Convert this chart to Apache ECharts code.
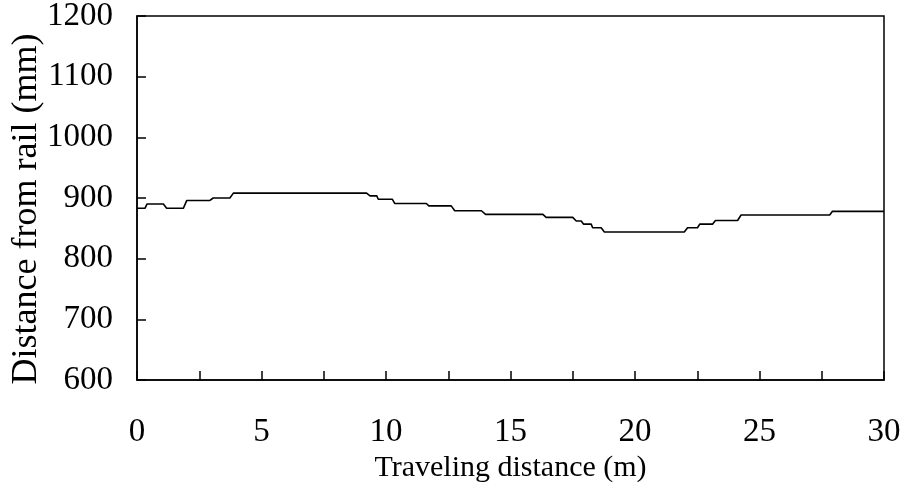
<!DOCTYPE html>
<html>
<head>
<meta charset="utf-8">
<script src="https://cdn.jsdelivr.net/npm/echarts@6/dist/echarts.min.js"></script>
<style>
  html, body { margin: 0; padding: 0; background: #fff; }
  #chart { width: 908px; height: 492px; }
</style>
</head>
<body>
<div id="chart"></div>
<script>
const distances = [0, 0.32, 0.4, 1.06, 1.19, 1.86, 2.0, 2.93, 3.06, 3.73, 3.87, 9.22, 9.36, 9.63, 9.69,
  10.25, 10.35, 11.62, 11.72, 12.62, 12.76, 13.83, 14.0, 16.3, 16.43, 17.5, 17.64, 17.84, 17.93, 18.24,
  18.3, 18.64, 18.77, 21.98, 22.11, 22.51, 22.6, 23.12, 23.23, 24.12, 24.26, 27.82, 27.93, 30];
const railDistances = [883, 883, 890, 890, 883, 883, 896, 896, 900, 900, 908, 908, 903.5, 903.5, 898,
  898, 891, 891, 887, 887, 879, 879, 873, 873, 868, 868, 862, 862, 857, 857,
  851, 851, 844, 844, 851, 851, 857, 857, 863, 863, 872, 872, 878, 878];
const xTickLabels = ["0", "5", "10", "15", "20", "25", "30"];

const font = "Liberation Serif";
const chart = echarts.init(document.getElementById("chart"));
chart.setOption({
  animation: false,
  grid: {
    left: 137, right: 24, top: 16, bottom: 112,
    outerBoundsMode: "none",
    containLabel: false,
    show: true, borderColor: "#000", borderWidth: 1.5
  },
  xAxis: {
    type: "value",
    min: 0, max: 30, interval: 2.5,
    name: "Traveling distance (m)",
    nameLocation: "middle",
    nameGap: 73,
    nameMoveOverlap: false,
    nameTextStyle: { fontFamily: font, fontSize: 30, color: "#000" },
    axisLine: { show: true, lineStyle: { color: "#000", width: 1.5 } },
    axisTick: { show: true, inside: true, length: 9, lineStyle: { color: "#000", width: 1.5 } },
    axisLabel: {
      fontFamily: font, fontSize: 33, color: "#000", margin: 36,
      formatter: (v) => xTickLabels.includes(String(v)) ? String(v) : ""
    },
    splitLine: { show: false }
  },
  yAxis: {
    type: "value",
    min: 600, max: 1200, interval: 100,
    name: "Distance from rail (mm)",
    nameLocation: "middle",
    nameGap: 92,
    nameMoveOverlap: false,
    nameTextStyle: { fontFamily: font, fontSize: 36, color: "#000", padding: [0, 22, 0, 0] },
    axisLine: { show: true, lineStyle: { color: "#000", width: 1.5 } },
    axisTick: { show: true, inside: true, length: 9, lineStyle: { color: "#000", width: 1.5 } },
    axisLabel: {
      fontFamily: font, fontSize: 33, color: "#000", margin: 24,
      formatter: (v) => String(v)
    },
    splitLine: { show: false }
  },
  series: [{
    type: "line",
    data: distances.map((d, i) => [d, railDistances[i]]),
    showSymbol: false,
    lineStyle: { color: "#000", width: 1.6 }
  }]
});
</script>
</body>
</html>
